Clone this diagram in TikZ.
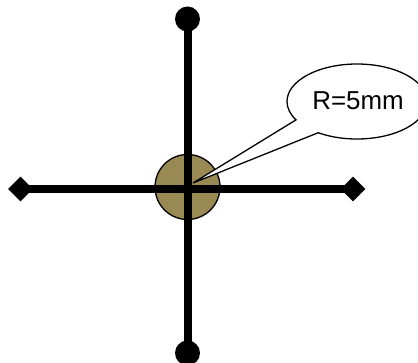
\documentclass[tikz,border=0pt]{standalone}
\usepackage{fontspec}
\setmainfont{Liberation Sans}
\usetikzlibrary{shapes.geometric,shapes.callouts}
\definecolor{hubolive}{RGB}{153,137,82}
\begin{document}
\begin{tikzpicture}[x=1bp,y=1bp,
  endball/.style={circle,fill=black,inner sep=0pt,minimum size=25bp},
  enddiamond/.style={diamond,fill=black,inner sep=0pt,minimum size=25bp},
  bar/.style={line width=8bp},
  hubdisc/.style={circle,draw=black,line width=1.3bp,fill=hubolive,inner sep=0pt,minimum size=65bp},
  note/.style={ellipse callout,draw=black,fill=white,line width=1.3bp,inner sep=0pt,
    minimum width=140bp,minimum height=75bp,callout pointer arc=27,
    font=\fontsize{26}{30}\selectfont}
]
\useasboundingbox (0,0) rectangle (418,363);
\node[hubdisc] (hub) at (187.5,176) {};
\node[endball] (top) at (187.5,344) {};
\node[endball] (bottom) at (187.5,10) {};
\node[enddiamond] (left) at (20.5,174) {};
\node[enddiamond] (right) at (353,174) {};
\draw[bar] (top.center) -- (bottom.center);
\draw[bar] (left.center) -- (right.center);
\coordinate (tip) at (193,180);
\node[note,callout absolute pointer={(tip)}] (label) at (357,261.5) {};
\node (labeltext) at (358,262) {\fontsize{26}{30}\selectfont R=5mm};
\end{tikzpicture}
\end{document}
